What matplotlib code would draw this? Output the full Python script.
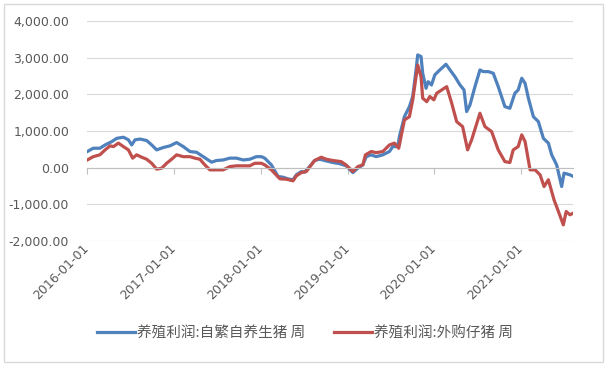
"""
    养殖利润 line chart (weekly, 2016-2021)
"""
import pandas as pd
import matplotlib.pyplot as plt
from matplotlib.patches import Rectangle

# data
self_bred_dates = [
    "2016-01-01", "2016-01-26", "2016-02-23", "2016-03-16", "2016-04-13", "2016-05-04",
    "2016-06-01", "2016-06-22", "2016-07-06", "2016-07-20", "2016-08-10", "2016-09-07",
    "2016-09-28", "2016-10-19", "2016-11-16", "2016-12-14", "2017-01-11", "2017-02-08",
    "2017-03-08", "2017-04-05", "2017-05-03", "2017-06-07", "2017-06-28", "2017-07-26",
    "2017-08-23", "2017-09-20", "2017-10-18", "2017-11-15", "2017-12-13", "2018-01-03",
    "2018-01-17", "2018-02-14", "2018-03-14", "2018-04-04", "2018-04-25", "2018-05-16",
    "2018-05-30", "2018-06-20", "2018-07-04", "2018-07-25", "2018-08-15", "2018-09-05",
    "2018-09-26", "2018-10-31", "2018-11-28", "2018-12-26", "2019-01-23", "2019-02-13",
    "2019-03-06", "2019-03-20", "2019-04-10", "2019-05-01", "2019-05-29", "2019-06-26",
    "2019-07-10", "2019-07-31", "2019-08-07", "2019-08-28", "2019-09-18", "2019-10-02",
    "2019-10-16", "2019-10-23", "2019-11-06", "2019-11-13", "2019-11-27", "2019-12-06",
    "2019-12-20", "2020-01-03", "2020-01-24", "2020-02-19", "2020-03-07", "2020-03-28",
    "2020-04-18", "2020-05-05", "2020-05-16", "2020-05-30", "2020-06-20", "2020-07-11",
    "2020-07-25", "2020-08-15", "2020-09-05", "2020-09-26", "2020-10-24", "2020-11-14",
    "2020-12-05", "2020-12-19", "2021-01-03", "2021-01-17", "2021-01-31", "2021-02-21",
    "2021-03-14", "2021-04-04", "2021-04-25", "2021-05-09", "2021-05-30", "2021-06-20",
    "2021-06-30", "2021-07-25", "2021-08-08",
]
self_bred = [
    440, 530, 530, 620, 710, 800,
    830, 760, 620, 760, 780, 740,
    620, 485, 550, 595, 685, 575,
    440, 420, 300, 150, 195, 210,
    260, 260, 210, 230, 300, 300,
    260, 75, -240, -260, -305, -330,
    -195, -105, -120, 30, 195, 230,
    195, 140, 110, 50, -135, -15,
    75, 300, 350, 300, 350, 440,
    575, 575, 850, 1390, 1665, 1940,
    2665, 3075, 3030, 2575, 2165, 2345,
    2255, 2530, 2665, 2820, 2665, 2480,
    2255, 2120, 1530, 1710, 2210, 2665,
    2620, 2620, 2575, 2210, 1665, 1620,
    2030, 2120, 2440, 2300, 1895, 1390,
    1255, 800, 670, 350, 75, -515,
    -150, -195, -240,
]

piglet_dates = [
    "2016-01-01", "2016-01-26", "2016-02-23", "2016-03-16", "2016-04-06", "2016-04-20",
    "2016-05-11", "2016-06-01", "2016-06-22", "2016-07-10", "2016-07-27", "2016-08-17",
    "2016-09-07", "2016-09-28", "2016-10-19", "2016-11-09", "2016-11-30", "2016-12-21",
    "2017-01-11", "2017-02-08", "2017-03-08", "2017-03-29", "2017-04-19", "2017-05-10",
    "2017-05-31", "2017-06-28", "2017-07-26", "2017-08-23", "2017-09-20", "2017-10-18",
    "2017-11-15", "2017-12-06", "2018-01-03", "2018-01-17", "2018-02-14", "2018-03-22",
    "2018-04-19", "2018-05-16", "2018-05-30", "2018-06-20", "2018-07-11", "2018-08-01",
    "2018-08-15", "2018-09-12", "2018-10-03", "2018-10-31", "2018-12-05", "2018-12-26",
    "2019-01-23", "2019-02-13", "2019-03-06", "2019-03-17", "2019-04-10", "2019-05-01",
    "2019-05-29", "2019-06-26", "2019-07-17", "2019-08-04", "2019-08-28", "2019-09-18",
    "2019-10-02", "2019-10-16", "2019-10-23", "2019-11-06", "2019-11-13", "2019-11-30",
    "2019-12-13", "2019-12-30", "2020-01-11", "2020-02-01", "2020-02-22", "2020-03-14",
    "2020-04-04", "2020-04-29", "2020-05-20", "2020-06-06", "2020-07-11", "2020-08-01",
    "2020-08-29", "2020-09-26", "2020-10-24", "2020-11-14", "2020-11-28", "2020-12-19",
    "2021-01-03", "2021-01-17", "2021-02-07", "2021-02-28", "2021-03-21", "2021-04-07",
    "2021-04-25", "2021-05-19", "2021-06-09", "2021-06-27", "2021-07-09", "2021-07-25",
    "2021-08-08",
]
piglet = [
    210, 300, 350, 485, 595, 575,
    670, 575, 485, 260, 350, 285,
    230, 120, -40, -15, 120, 230,
    350, 300, 300, 260, 230, 75,
    -60, -60, -60, 30, 50, 50,
    50, 120, 120, 75, -60, -305,
    -315, -360, -225, -135, -105, 75,
    195, 285, 230, 195, 165, 70,
    -105, 30, 75, 350, 440, 410,
    440, 620, 670, 530, 1300, 1390,
    1850, 2480, 2800, 2480, 1895, 1800,
    1940, 1850, 2030, 2120, 2210, 1760,
    1255, 1120, 485, 760, 1485, 1120,
    985, 485, 165, 140, 485, 575,
    895, 710, -60, -60, -195, -515,
    -330, -880, -1240, -1560, -1195, -1285,
    -1240,
]

tick_dates = ["2016-01-01", "2017-01-01", "2018-01-01", "2019-01-01", "2020-01-01", "2021-01-01"]
y_ticks = [-2000, -1000, 0, 1000, 2000, 3000, 4000]
labels = ["养殖利润:自繁自养生猪 周", "养殖利润:外购仔猪 周"]

blue = "#4F81BD"
red = "#C0504D"
grey_text = "#595959"

fig = plt.figure(figsize=(6.1, 3.67), dpi=100)
ax = fig.add_axes([87.3 / 610, 1 - 241 / 367, (573.3 - 87.3) / 610, (241 - 21) / 367])

ax.plot(pd.to_datetime(self_bred_dates), self_bred, color=blue, lw=2.3, label=labels[0])
ax.plot(pd.to_datetime(piglet_dates), piglet, color=red, lw=2.3, label=labels[1])

ax.set_ylim(-2000, 4000)
ax.set_xlim(pd.Timestamp("2016-01-01"), pd.Timestamp("2021-08-08"))
ax.set_yticks(y_ticks)
ax.set_yticklabels(["{:,.2f}".format(v) for v in y_ticks])
ax.tick_params(axis="y", length=0, pad=13, labelsize=9, labelcolor=grey_text)
ax.grid(axis="y", color="#d9d9d9", lw=0.8)
ax.set_axisbelow(True)

# horizontal axis crosses at zero, labels stay at the bottom
for s in ["top", "right", "left"]:
    ax.spines[s].set_visible(False)
ax.spines["bottom"].set_position(("data", 0))
ax.spines["bottom"].set_color("#bfbfbf")
ticks = pd.to_datetime(tick_dates)
ax.set_xticks(ticks)
ax.set_xticklabels([])
ax.tick_params(axis="x", direction="out", length=4, color="#bfbfbf")
for t, lab in zip(ticks, tick_dates):
    ax.text(t, -0.025, lab, transform=ax.get_xaxis_transform(), rotation=45,
            ha="right", va="center", rotation_mode="anchor",
            fontsize=9, color=grey_text)

leg = fig.legend(loc="center", bbox_to_anchor=(0.5, 1 - 333 / 367), ncol=2,
                 frameon=False, handlelength=2.6, handletextpad=0.1,
                 columnspacing=2.0, prop={"family": ["Noto Sans CJK SC", "DejaVu Sans"], "size": 10.5})
for txt in leg.get_texts():
    txt.set_color(grey_text)

# chart area border
fig.patches.append(Rectangle((4 / 610, 5 / 367), 599 / 610, 358 / 367,
                             transform=fig.transFigure, fill=False,
                             edgecolor="#d9d9d9", lw=1))

fig.savefig("out.png", dpi=100)
